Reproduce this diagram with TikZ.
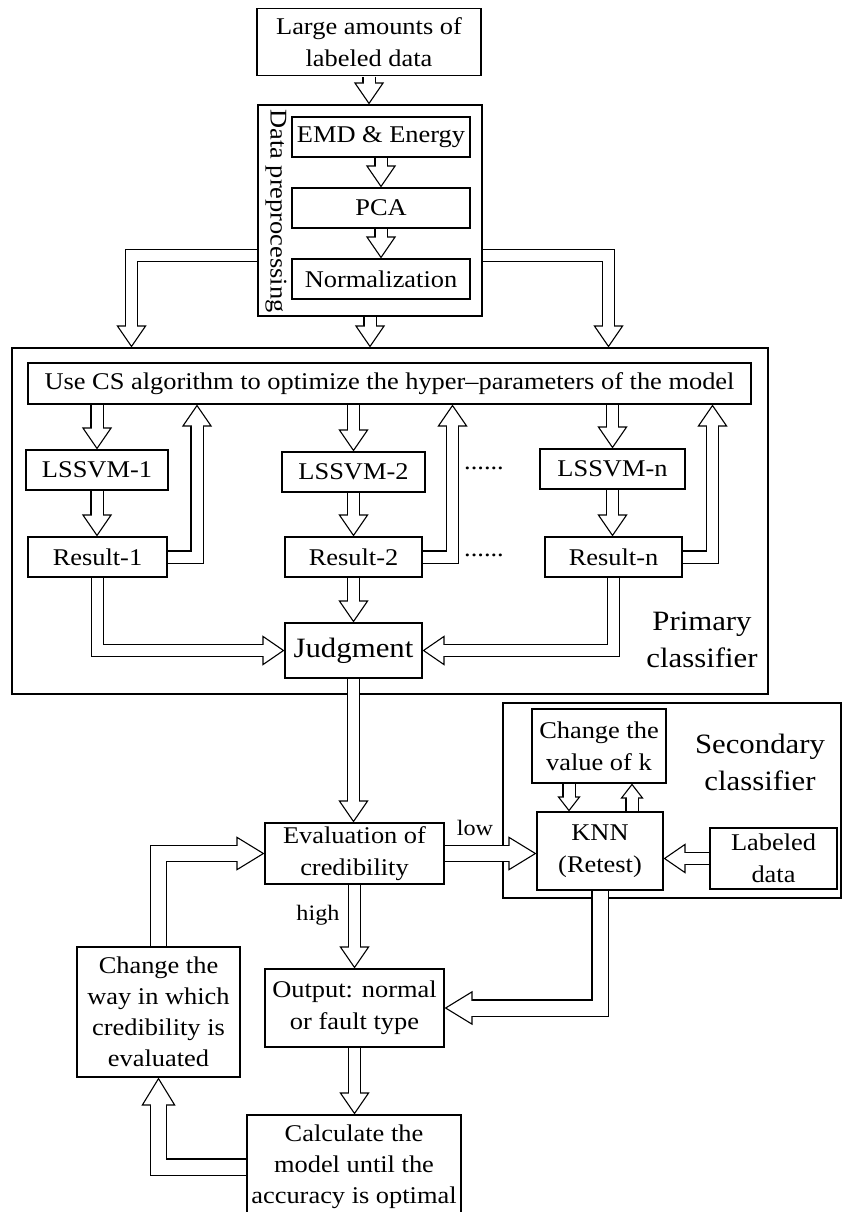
\documentclass[tikz,border=0pt]{standalone}
\usepackage{fontspec}
\setmainfont{Liberation Serif}[FakeStretch=1.1]
\usetikzlibrary{arrows.meta}
\pgfdeclarelayer{grouplayer}
\pgfdeclarelayer{edgelayer}
\pgfdeclarelayer{nodelayer}
\pgfsetlayers{grouplayer,edgelayer,nodelayer,main}
\tikzset{font=\fontsize{24}{32}\selectfont}
\tikzstyle{none}=[inner sep=0pt]
\tikzstyle{box}=[draw, fill=white, line width=1.1pt, align=center, inner sep=0pt]
\tikzstyle{groupbox}=[draw, line width=1.1pt, inner sep=0pt]
\tikzstyle{biglabel}=[align=center, font=\fontsize{28}{37}\selectfont]
\tikzstyle{smalllabel}=[font=\fontsize{22}{28}\selectfont]
% hollow block arrows: double shaft, white head, base line wiped inside the shaft
\tikzstyle{flow}=[preaction={draw, line width=1.1pt, double=white, double distance=11pt, shorten <=0.6pt, shorten >=20pt}, postaction={draw=white, line width=0.4pt, shorten <=0.6pt, -{Triangle[length=22pt, width=30pt, color=black, fill=white, line width=1.1pt]}}, postaction={draw=white, line width=11pt, shorten <=0.6pt, shorten >=19pt}]
\tikzstyle{wideflow}=[preaction={draw, line width=1.1pt, double=white, double distance=15pt, shorten <=0.6pt, shorten >=26pt}, postaction={draw=white, line width=0.4pt, shorten <=0.6pt, -{Triangle[length=28pt, width=34pt, color=black, fill=white, line width=1.1pt]}}, postaction={draw=white, line width=15pt, shorten <=0.6pt, shorten >=25pt}]
\tikzstyle{shortflow}=[preaction={draw, line width=1.1pt, double=white, double distance=11pt, shorten <=0.6pt, shorten >=13pt}, postaction={draw=white, line width=0.4pt, shorten <=0.6pt, -{Triangle[length=15pt, width=23pt, color=black, fill=white, line width=1.1pt]}}, postaction={draw=white, line width=11pt, shorten <=0.6pt, shorten >=12pt}]

\begin{document}
\begin{tikzpicture}[x=1pt, y=-1pt]
	\useasboundingbox (0, 0) rectangle (843, 1212);
	\begin{pgfonlayer}{grouplayer}
		\fill [white] (0, 0) rectangle (843, 1212);
		\node [style=groupbox, minimum width=224pt, minimum height=211pt] (prep) at (370, 210.5) {};
		\node [style=groupbox, minimum width=756pt, minimum height=346pt] (primary) at (390, 521) {};
		\node [style=groupbox, minimum width=338pt, minimum height=195pt] (secondary) at (672, 800.5) {};
	\end{pgfonlayer}
	\begin{pgfonlayer}{nodelayer}
		\node [style=box, minimum width=224pt, minimum height=67pt] (source) at (369, 42) {Large amounts of\\labeled data};
		\node [style=box, minimum width=178pt, minimum height=40pt] (emd) at (381, 137) {EMD \& Energy};
		\node [style=box, minimum width=178pt, minimum height=40pt] (pca) at (381, 208) {PCA};
		\node [style=box, minimum width=178pt, minimum height=40pt] (norm) at (381, 279) {Normalization};
		\node [style=box, minimum width=723pt, minimum height=41pt] (cs) at (389.5, 383.5) {Use CS algorithm to optimize the hyper--parameters of the model};
		\node [style=box, minimum width=142pt, minimum height=40pt] (svm1) at (97, 470) {LSSVM-1};
		\node [style=box, minimum width=143pt, minimum height=40pt] (svm2) at (353.5, 472) {LSSVM-2};
		\node [style=box, minimum width=145pt, minimum height=40pt] (svmn) at (612.5, 469) {LSSVM-n};
		\node [style=box, minimum width=139pt, minimum height=40pt] (res1) at (97.5, 557) {Result-1};
		\node [style=box, minimum width=137pt, minimum height=40pt] (res2) at (353.5, 557) {Result-2};
		\node [style=box, minimum width=137pt, minimum height=40pt] (resn) at (613.5, 557) {Result-n};
		\node [style=box, minimum width=137pt, minimum height=55pt, font=\fontsize{28}{37}\selectfont] (judg) at (353.5, 650.5) {Judgment};
		\node [style=box, minimum width=134pt, minimum height=74pt] (kchange) at (599, 746) {Change the\\value of k};
		\node [style=box, minimum width=126pt, minimum height=78pt] (knn) at (600, 851) {KNN\\(Retest)};
		\node [style=box, minimum width=127pt, minimum height=61pt] (labeled) at (773.5, 858.5) {Labeled\\data};
		\node [style=box, minimum width=179pt, minimum height=61pt] (eval) at (354.5, 853.5) {Evaluation of\\credibility};
		\node [style=box, minimum width=179pt, minimum height=78pt] (out) at (354.5, 1008) {Output: normal\\or fault type};
		\node [style=box, minimum width=163pt, minimum height=130pt, font=\fontsize{24}{31}\selectfont] (waychange) at (158.5, 1012) {Change the\\way in which\\credibility is\\evaluated};
		\node [style=box, minimum width=214pt, minimum height=104pt, font=\fontsize{24}{31}\selectfont] (calc) at (354, 1167) {Calculate the\\model until the\\accuracy is optimal};
		\node [style=none] (pl) at (131.5, 255.5) {};
		\node [style=none] (pr) at (608.5, 255.5) {};
		\node [style=none] (fb1) at (197, 557) {};
		\node [style=none] (fb2) at (452.5, 557) {};
		\node [style=none] (fbn) at (712.5, 557) {};
	\end{pgfonlayer}
	\begin{pgfonlayer}{edgelayer}
		\path [style=flow] (source) to (source |- prep.north);
		\path [style=flow] (emd) to (pca);
		\path [style=flow] (pca) to (norm);
		\path [style=flow] (pl.center -| prep.west) -| (primary.north -| pl.center);
		\path [style=flow] (pr.center -| prep.east) -| (primary.north -| pr.center);
		\path [style=flow] (prep.south) to (prep.south |- primary.north);
		\path [style=flow] (cs.south -| svm1.north) to (svm1.north);
		\path [style=flow] (cs.south -| svm2.north) to (svm2.north);
		\path [style=flow] (cs.south -| svmn.north) to (svmn.north);
		\path [style=flow] (svm1.south) to (svm1.south |- res1.north);
		\path [style=flow] (svm2.south) to (svm2.south |- res2.north);
		\path [style=flow] (svmn.south) to (svmn.south |- resn.north);
		\path [style=flow] (res1.east) -| (cs.south -| fb1.center);
		\path [style=flow] (res2.east) -| (cs.south -| fb2.center);
		\path [style=flow] (resn.east) -| (cs.south -| fbn.center);
		\path [style=flow] (res1.south) |- (judg.west);
		\path [style=flow] (resn.south) |- (judg.east);
		\path [style=flow] (res2) to (judg);
		\path [style=flow] (judg.south) to (judg.south |- eval.north);
		\path [style=wideflow] (eval.east) to (eval.east -| knn.west);
		\path [style=flow] (labeled.west) to (labeled.west -| knn.east);
		\path [style=shortflow] ([xshift=-30pt]kchange.south) to ([xshift=-30pt]kchange.south |- knn.north);
		\path [style=shortflow] ([xshift=33pt]kchange.south |- knn.north) to ([xshift=33pt]kchange.south);
		\path [style=flow] (eval) to (out);
		\path [style=wideflow] (knn.south) |- (out.east);
		\path [style=wideflow] (waychange.north) |- (eval.west);
		\path [style=flow] (out.south) to (out.south |- calc.north);
		\path [style=wideflow] (calc.west) -| (waychange.south);
	\end{pgfonlayer}
	\node [style=none, rotate=-90] (preplabel) at (276, 211) {Data preprocessing};
	\node [style=biglabel] (primlabel) at (702, 640) {Primary\\classifier};
	\node [style=biglabel] (seclabel) at (760, 762) {Secondary\\classifier};
	\node [style=smalllabel] (low) at (475, 828) {low};
	\node [style=smalllabel] (high) at (318, 915) {high};
	\node [style=none] (dots1) at (484, 468) {......};
	\node [style=none] (dots2) at (484, 555) {......};
\end{tikzpicture}
\end{document}
